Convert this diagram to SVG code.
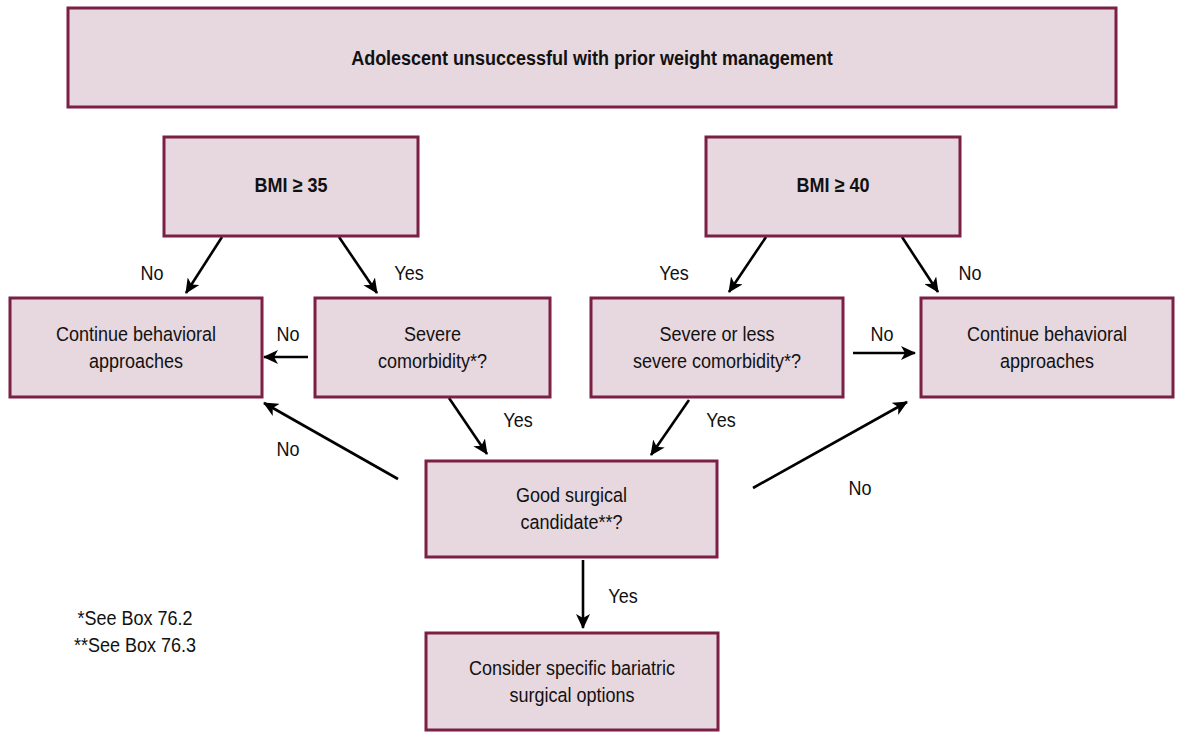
<svg xmlns="http://www.w3.org/2000/svg" width="1183" height="733" viewBox="0 0 1183 733">
<style>
.box{fill:#e7d7de;stroke:#7b1f45;stroke-width:3}
.t{font-family:"Liberation Sans",Arial,sans-serif;font-size:20.45px;fill:#111;text-anchor:middle}
.b{font-weight:bold}
.c{stroke:#000;stroke-width:2.6;fill:none;marker-end:url(#ah)}
</style>
<defs>
<marker id="ah" viewBox="0 -7 16 14" markerWidth="16" markerHeight="14" refX="14" refY="0" orient="auto" markerUnits="userSpaceOnUse">
<path d="M0,-7 L15,0 L0,7 L4,0 z" fill="#000"/>
</marker>
</defs>
<rect width="1183" height="733" fill="#fff"/>
<g id="connectors">
<line class="c" x1="222" y1="237" x2="186" y2="293"/>
<line class="c" x1="339" y1="237" x2="377" y2="293"/>
<line class="c" x1="308" y1="357" x2="264" y2="357"/>
<line class="c" x1="766" y1="237" x2="729" y2="292"/>
<line class="c" x1="902" y1="237" x2="938" y2="292"/>
<line class="c" x1="853" y1="353" x2="915" y2="353"/>
<line class="c" x1="449" y1="398" x2="487" y2="454"/>
<line class="c" x1="689" y1="400" x2="651" y2="455"/>
<line class="c" x1="398" y1="479" x2="264" y2="403"/>
<line class="c" x1="753" y1="488" x2="907" y2="402"/>
<line class="c" x1="583" y1="560" x2="583" y2="628"/>
<g transform="scale(0.88,1)">
<text class="t" x="172.73" y="280">No</text>
<text class="t" x="464.77" y="280">Yes</text>
<text class="t" x="327.27" y="341">No</text>
<text class="t" x="765.91" y="280">Yes</text>
<text class="t" x="1102.27" y="280">No</text>
<text class="t" x="1002.27" y="341">No</text>
<text class="t" x="588.64" y="427">Yes</text>
<text class="t" x="819.32" y="427">Yes</text>
<text class="t" x="327.27" y="456">No</text>
<text class="t" x="977.27" y="495">No</text>
<text class="t" x="707.95" y="603">Yes</text>
</g>
</g>
<g id="n-title">
<rect class="box" x="68" y="8" width="1048" height="99"/>
<text class="t b" transform="scale(0.88,1)" x="672.73" y="65">Adolescent unsuccessful with prior weight management</text>
</g>
<g id="n-bmi35">
<rect class="box" x="164" y="137" width="254" height="99"/>
<text class="t b" transform="scale(0.88,1)" x="330.68" y="192">BMI ≥ 35</text>
</g>
<g id="n-bmi40">
<rect class="box" x="706" y="137" width="254" height="99"/>
<text class="t b" transform="scale(0.88,1)" x="946.59" y="192">BMI ≥ 40</text>
</g>
<g id="n-cont-left">
<rect class="box" x="10" y="298" width="252" height="99"/>
<g transform="scale(0.88,1)">
<text class="t" x="154.55" y="341">Continue behavioral</text>
<text class="t" x="154.55" y="368">approaches</text>
</g>
</g>
<g id="n-severe">
<rect class="box" x="315" y="298" width="235" height="99"/>
<g transform="scale(0.88,1)">
<text class="t" x="491.48" y="341">Severe</text>
<text class="t" x="491.48" y="368">comorbidity*?</text>
</g>
</g>
<g id="n-severe-less">
<rect class="box" x="591" y="298" width="252" height="99"/>
<g transform="scale(0.88,1)">
<text class="t" x="814.77" y="341">Severe or less</text>
<text class="t" x="814.77" y="368">severe comorbidity*?</text>
</g>
</g>
<g id="n-cont-right">
<rect class="box" x="921" y="298" width="252" height="99"/>
<g transform="scale(0.88,1)">
<text class="t" x="1189.77" y="341">Continue behavioral</text>
<text class="t" x="1189.77" y="368">approaches</text>
</g>
</g>
<g id="n-good">
<rect class="box" x="426" y="461" width="291" height="96"/>
<g transform="scale(0.88,1)">
<text class="t" x="649.43" y="502">Good surgical</text>
<text class="t" x="649.43" y="529">candidate**?</text>
</g>
</g>
<g id="n-consider">
<rect class="box" x="426" y="633" width="292" height="97"/>
<g transform="scale(0.88,1)">
<text class="t" x="650" y="675">Consider specific bariatric</text>
<text class="t" x="650" y="702">surgical options</text>
</g>
</g>
<g id="footnotes">
<g transform="scale(0.88,1)">
<text class="t" x="153.41" y="625">*See Box 76.2</text>
<text class="t" x="153.41" y="652">**See Box 76.3</text>
</g>
</g>
</svg>
